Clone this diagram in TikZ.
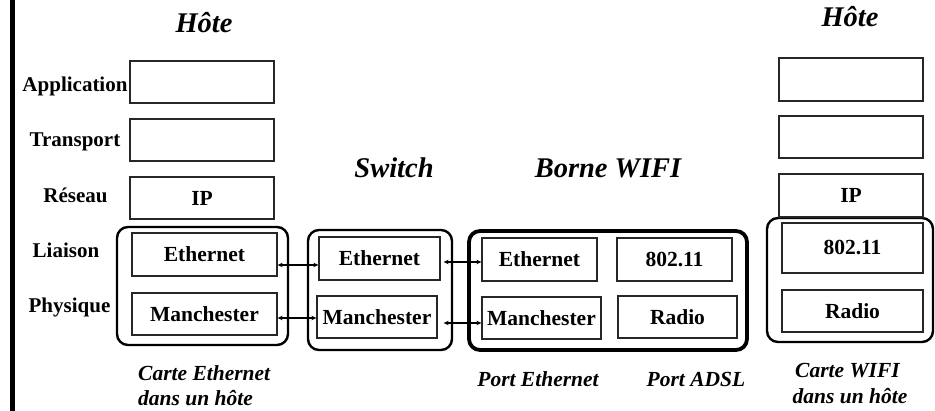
\documentclass[tikz,border=0pt]{standalone}
\usepackage{fontspec}
\setmainfont{Liberation Serif}
\usetikzlibrary{arrows.meta}

\tikzset{
  layer/.style={draw=black!85, line width=1.3pt, minimum width=#1, inner sep=0pt,
                font=\fontsize{21.5}{24}\selectfont\bfseries},
  layer/.default=144pt,
  card/.style={draw, line width=2.4pt, rounded corners=11pt, inner sep=0pt},
  wificard/.style={card, line width=3.8pt},
  lvl/.style={anchor=base, inner sep=0pt, font=\fontsize{21}{24}\selectfont\bfseries},
  title/.style={anchor=base, inner sep=0pt, font=\fontsize{28.5}{32}\selectfont\bfseries\itshape},
  caption/.style={anchor=base, inner sep=0pt, font=\fontsize{21.5}{24}\selectfont\bfseries\itshape},
  link/.style={line width=1.1pt, {Stealth[length=5pt,width=4.5pt]}-{Stealth[length=5pt,width=4.5pt]}}
}

\begin{document}
\begin{tikzpicture}[x=1pt,y=-1pt]
\useasboundingbox (0,0) rectangle (935,411);

% left margin rule
\fill (10,0) rectangle (15,411);

% ---------- host on the left ----------
\node[title] (hoteL) at (204,33) {Hôte};
\node[lvl] (lApp) at (75,92) {Application};
\node[lvl] (lTra) at (75,147) {Transport};
\node[lvl] (lRes) at (75.5,203) {Réseau};
\node[lvl] (lLia) at (66,258) {Liaison};
\node[lvl] (lPhy) at (69.5,313) {Physique};

\node[card, minimum width=171pt, minimum height=118pt] (cardL) at (202.5,286) {};
\node[layer, minimum height=42pt] (appL) at (202,82) {};
\node[layer, minimum height=42pt] (traL) at (202,140) {};
\node[layer, minimum height=42pt] (ipL)  at (202,198) {IP};
\node[layer=145pt, minimum height=43pt] (ethL) at (204.5,254.5) {Ethernet};
\node[layer=145pt, minimum height=42pt] (manL) at (204.5,314) {Manchester};

\node[caption, anchor=base west] (capL1) at (138,381) {Carte Ethernet};
\node[caption, anchor=base west] (capL2) at (138,406) {dans un hôte};

% ---------- switch ----------
\node[title] (swT) at (394,178) {Switch};
\node[card, minimum width=144pt, minimum height=120pt] (cardS) at (380,290) {};
\node[layer=121pt, minimum height=43pt] (ethS) at (379.5,258.5) {Ethernet};
\node[layer=120pt, minimum height=42pt] (manS) at (377,317) {Manchester};

% ---------- wifi access point ----------
\node[title] (apT) at (608,178) {Borne WIFI};
\node[wificard, minimum width=278pt, minimum height=119pt] (cardW) at (608,290.5) {};
\node[layer=115pt, minimum height=43pt] (ethW) at (539.5,259.5) {Ethernet};
\node[layer=115pt, minimum height=43pt] (wifW) at (674.5,259.5) {802.11};
\node[layer=119pt, minimum height=42pt] (manW) at (541.5,318) {Manchester};
\node[layer=119pt, minimum height=42pt] (radW) at (677.5,317) {Radio};
\node[caption] (portE) at (538,387) {Port Ethernet};
\node[caption] (portA) at (696,387) {Port ADSL};

% ---------- host on the right ----------
\node[title] (hoteR) at (850,27) {Hôte};
\node[card, minimum width=166pt, minimum height=124pt] (cardR) at (850,280) {};
\node[layer, minimum height=43pt] (appR) at (851,79.5) {};
\node[layer, minimum height=42pt] (traR) at (851,137) {};
\node[layer, minimum height=43pt] (ipR)  at (851,195.5) {IP};
\node[layer=141pt, minimum height=50pt] (wifR) at (852.5,248) {802.11};
\node[layer=141pt, minimum height=42pt] (radR) at (852.5,311) {Radio};
\node[caption] (capR1) at (847.5,378) {Carte WIFI};
\node[caption] (capR2) at (850,404) {dans un hôte};

% ---------- links ----------
\coordinate (a1) at ([yshift=-10.5pt]ethL.east);
\coordinate (a2) at ([yshift=-4pt]manL.east);
\coordinate (b1) at ([yshift=-3.5pt]ethS.east);
\coordinate (b2) at ([yshift=-6pt]manS.east);
\draw[link] (a1) -- (a1 -| ethS.west);
\draw[link] (a2) -- (a2 -| manS.west);
\draw[link] ([xshift=3pt]b1) -- (b1 -| ethW.west);
\draw[link] ([xshift=6pt]b2) -- (b2 -| manW.west);
\end{tikzpicture}
\end{document}
